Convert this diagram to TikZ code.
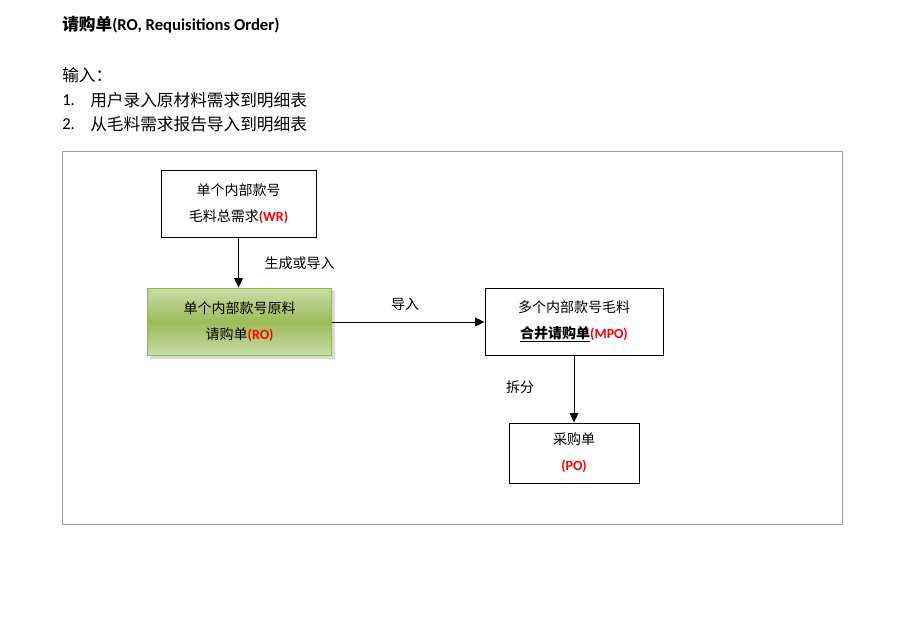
\documentclass[tikz,border=0pt]{standalone}
\usepackage{fontspec}
\setmainfont{Carlito}
\newfontfamily\cjk{Noto Sans CJK SC}
\usetikzlibrary{arrows.meta,positioning}
\definecolor{frameGray}{HTML}{A0A0A0}
\definecolor{oliveLight}{HTML}{C9DCA6}
\definecolor{oliveMid}{HTML}{9BBB59}
\definecolor{oliveEdge}{HTML}{93B653}
\newcommand{\codetag}[1]{{\bfseries\color{red}#1}}
\tikzset{
  flowbox/.style={draw,line width=0.7pt,align=center,inner sep=2pt,
    font=\fontsize{10.5}{19.5}\selectfont},
  flowarrow/.style={-{Triangle[length=7pt,width=6.5pt]},line width=0.7pt},
  flowlabel/.style={font=\cjk\fontsize{10.5}{12}\selectfont}
}
\begin{document}
\begin{tikzpicture}[x=0.75pt,y=-0.75pt]
  \useasboundingbox (0,0) rectangle (913,628);
  % heading and input list
  \node[anchor=west,inner sep=0pt,font=\bfseries\fontsize{12.5}{14}\selectfont] (title) at (62,25)
    {{\cjk 请购单}(RO, Requisitions Order)};
  \node[anchor=west,inner sep=0pt,font=\cjk\fontsize{12.5}{14}\selectfont] (input) at (62,75) {输入：};
  \foreach \n/\y/\t in {1/100/用户录入原材料需求到明细表, 2/124/从毛料需求报告导入到明细表}
    {\node[anchor=west,inner sep=0pt,font=\fontsize{12.5}{14}\selectfont] (num\n) at (62,\y) {\n.};
     \node[anchor=west,inner sep=0pt,font=\cjk\fontsize{12.5}{14}\selectfont] (item\n) at (90,\y) {\t};}
  % frame
  \draw[frameGray,line width=0.6pt] (62,151) rectangle (842,524);
  % boxes
  \node[flowbox,minimum width=116.25pt,minimum height=50.25pt] (wr) at (238.5,203.5)
    {{\cjk 单个内部款号}\\{\cjk 毛料总需求}\codetag{(WR)}};
  \fill[black!15] (150,291) rectangle (335,359);
  \node[flowbox,draw=oliveEdge,line width=1.4pt,top color=oliveLight,bottom color=oliveLight,
    middle color=oliveMid,minimum width=138pt,minimum height=50.25pt] (ro) at (239.5,322)
    {{\cjk 单个内部款号原料}\\{\cjk 请购单}\codetag{(RO)}};
  \node[flowbox,minimum width=133.5pt,minimum height=50.25pt] (mpo) at (574,321.5)
    {{\cjk 多个内部款号毛料}\\\underline{\cjk\bfseries 合并请购单}\codetag{(MPO)}};
  \node[flowbox,minimum width=97.5pt,minimum height=45pt] (po) at (574,453)
    {{\cjk 采购单}\\\codetag{(PO)}};
  % connectors
  \draw[flowarrow] (wr.south) -- (wr.south |- ro.north);
  \draw[flowarrow] (ro.east) -- (ro.east -| mpo.west);
  \draw[flowarrow] (mpo.south) -- (po.north);
  \node[flowlabel,anchor=west] (genlbl) at (260,263) {生成或导入};
  \node[flowlabel] (implbl) at (405,304) {导入};
  \node[flowlabel] (splitlbl) at (520,387) {拆分};
\end{tikzpicture}
\end{document}
